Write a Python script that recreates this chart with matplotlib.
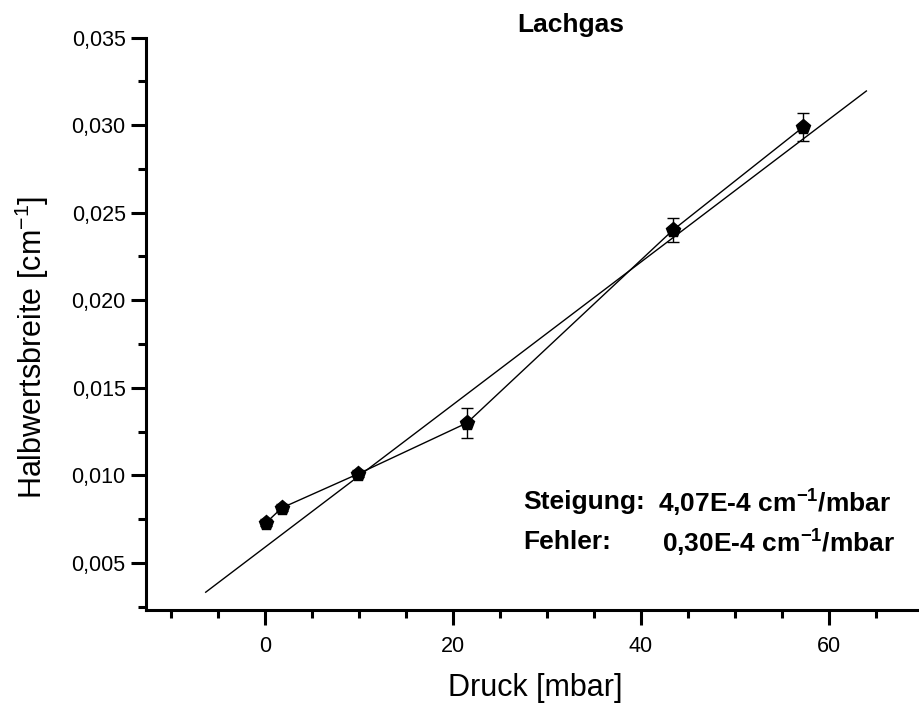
import matplotlib.pyplot as plt
import numpy as np
from matplotlib.ticker import MultipleLocator, FuncFormatter

plt.rcParams['font.family'] = ['Liberation Sans', 'DejaVu Sans']
plt.rcParams['mathtext.fontset'] = 'custom'
plt.rcParams['mathtext.rm'] = 'Liberation Sans'
plt.rcParams['mathtext.bf'] = 'Liberation Sans:bold'

# Messwerte
druck = [0.1, 1.8, 9.95, 21.5, 43.4, 57.3]
breite = [0.00729, 0.00815, 0.0101, 0.0130, 0.0240, 0.0299]
fehler = [0.0002, 0.0002, 0.0002, 0.00088, 0.0007, 0.0008]

# lineare Regression
steigung = 4.07e-4
achse = 0.0059
fit_x = [-6.3, 64.0]

fig = plt.figure(figsize=(9.19, 7.08), dpi=100)
ax = fig.add_axes([0.1594, 0.1384, 0.8406, 0.8086])

ax.errorbar(druck, breite, yerr=fehler, fmt='-', color='black', lw=1.0,
            marker='p', markersize=11, capsize=4, elinewidth=1, capthick=1)
fx = np.array(fit_x)
ax.plot(fx, achse + steigung * fx, color='black', lw=1.0)

ax.set_xlim(-12.6, 69.6)
ax.set_ylim(0.00232, 0.035)
ax.spines['top'].set_visible(False)
ax.spines['right'].set_visible(False)
ax.spines['left'].set_linewidth(2.2)
ax.spines['bottom'].set_linewidth(2.2)

ax.xaxis.set_major_locator(MultipleLocator(20))
ax.xaxis.set_minor_locator(MultipleLocator(5))
ax.yaxis.set_major_locator(MultipleLocator(0.005))
ax.yaxis.set_minor_locator(MultipleLocator(0.0025))
ax.yaxis.set_major_formatter(FuncFormatter(lambda v, p: f'{v:.3f}'.replace('.', ',')))
ax.tick_params(which='major', direction='out', length=11, width=2.2, labelsize=15.5)
ax.tick_params(which='minor', direction='out', length=6, width=2.2)
ax.tick_params(axis='y', which='major', pad=4)
ax.tick_params(axis='x', which='major', pad=8)

ax.set_xlabel('Druck [mbar]', fontsize=22, va='center')
ax.xaxis.set_label_coords(0.503, -0.136)
ax.set_ylabel(r'Halbwertsbreite [cm$^{-1}$]', fontsize=22, va='center')
ax.yaxis.set_label_coords(-0.148, 0.458)

fig.text(571 / 919, 1 - 25 / 708, 'Lachgas', fontsize=19, fontweight='bold',
         ha='center', va='center')

fig.text(523 / 919, 1 - 502 / 708, 'Steigung:', fontsize=19, fontweight='bold', va='center')
fig.text(658 / 919, 1 - 502 / 708, r'4,07E-4 cm$^{\mathbf{-1}}$/mbar', fontsize=19,
         fontweight='bold', va='center')
fig.text(523 / 919, 1 - 542 / 708, 'Fehler:', fontsize=19, fontweight='bold', va='center')
fig.text(662 / 919, 1 - 542 / 708, r'0,30E-4 cm$^{\mathbf{-1}}$/mbar', fontsize=19,
         fontweight='bold', va='center')

fig.savefig('out.png', dpi=100)
